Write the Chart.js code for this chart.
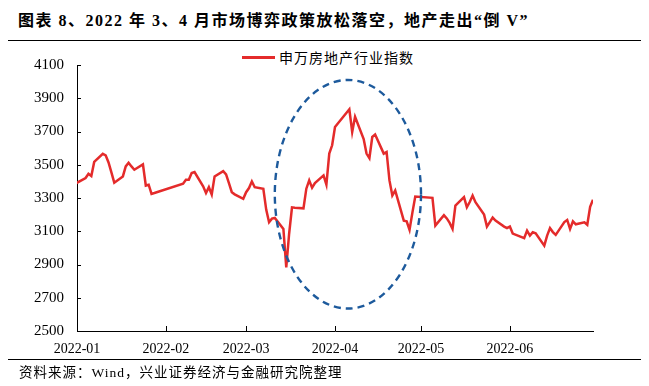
<!DOCTYPE html>
<html lang="zh-CN">
<head>
<meta charset="utf-8">
<script src="https://cdn.jsdelivr.net/npm/chart.js@4.4.1/dist/chart.umd.min.js"></script>
<style>
  html, body { margin: 0; padding: 0; background: #fff; }
  #wrap { position: relative; width: 649px; height: 386px; overflow: hidden; }
  #chart { position: absolute; left: 0; top: 0; }
  .title {
    position: absolute; left: 18px; top: 7px; white-space: pre; letter-spacing: 1.5px;
    font: bold 16px "Liberation Serif", "Noto Sans CJK SC", serif; color: #000;
  }
  .rule { position: absolute; left: 8px; width: 633px; height: 1px; background: #000; }
  .note {
    position: absolute; left: 19px; top: 361px; white-space: nowrap; letter-spacing: 1px;
    font: 13.5px "Liberation Serif", "Noto Sans CJK SC", serif; color: #000;
  }
  .legend { position: absolute; left: 242px; top: 48px; height: 18px; white-space: nowrap; }
  .legend i { position: absolute; left: 0; top: 8px; width: 33px; height: 2.5px; background: #e42b2b; }
  .legend span {
    position: absolute; left: 37px; top: 0; letter-spacing: 1px;
    font: 14px "Noto Sans CJK SC", sans-serif; line-height: 18px; color: #000;
  }
</style>
</head>
<body>
<div id="wrap">
  <div class="title">图表 8、2022 年 3、4 月市场博弈政策放松落空，地产走出“倒 V”</div>
  <div class="rule" style="top:40px"></div>
  <div class="legend"><i></i><span>申万房地产行业指数</span></div>
  <canvas id="chart" width="649" height="386"></canvas>
  <div class="rule" style="top:359px"></div>
  <div class="note">资料来源：Wind，兴业证券经济与金融研究院整理</div>
</div>
<script>
// 交易日
const dates = [
  '2021-12-31',
  '2022-01-04','2022-01-05','2022-01-06','2022-01-07','2022-01-10','2022-01-11','2022-01-12','2022-01-13','2022-01-14',
  '2022-01-17','2022-01-18','2022-01-19','2022-01-20','2022-01-21','2022-01-24','2022-01-25','2022-01-26','2022-01-27','2022-01-28',
  '2022-02-07','2022-02-08','2022-02-09','2022-02-10','2022-02-11','2022-02-14','2022-02-15','2022-02-16','2022-02-17','2022-02-18',
  '2022-02-21','2022-02-22','2022-02-23','2022-02-24','2022-02-25','2022-02-28',
  '2022-03-01','2022-03-02','2022-03-03','2022-03-04','2022-03-07','2022-03-08','2022-03-09','2022-03-10','2022-03-11',
  '2022-03-14','2022-03-15','2022-03-16','2022-03-17','2022-03-18','2022-03-21','2022-03-22','2022-03-23','2022-03-24','2022-03-25',
  '2022-03-28','2022-03-29','2022-03-30','2022-03-31','2022-04-01',
  '2022-04-06','2022-04-07','2022-04-08','2022-04-11','2022-04-12','2022-04-13','2022-04-14','2022-04-15',
  '2022-04-18','2022-04-19','2022-04-20','2022-04-21','2022-04-22','2022-04-25','2022-04-26','2022-04-27','2022-04-28','2022-04-29',
  '2022-05-05','2022-05-06','2022-05-09','2022-05-10','2022-05-11','2022-05-12','2022-05-13',
  '2022-05-16','2022-05-17','2022-05-18','2022-05-19','2022-05-20','2022-05-23','2022-05-24','2022-05-25','2022-05-26','2022-05-27',
  '2022-05-30','2022-05-31','2022-06-01','2022-06-02',
  '2022-06-06','2022-06-07','2022-06-08','2022-06-09','2022-06-10','2022-06-13','2022-06-14','2022-06-15','2022-06-16','2022-06-17',
  '2022-06-20','2022-06-21','2022-06-22','2022-06-23','2022-06-24','2022-06-27','2022-06-28','2022-06-29','2022-06-30'
];

// 申万房地产行业指数
const swRealEstate = [
  3382,
  3420, 3446, 3432, 3517, 3566, 3557, 3514, 3454, 3392,
  3430, 3490, 3512, 3490, 3470, 3502, 3375, 3380, 3325, 3330,
  3386, 3410, 3410, 3450, 3456, 3370, 3330, 3365, 3321, 3430,
  3462, 3442, 3390, 3335, 3322, 3295,
  3335, 3360, 3400, 3365, 3355, 3230, 3154, 3176, 3180,
  3114, 2882, 3085, 3244, 3242, 3238, 3356, 3406, 3362, 3390,
  3436, 3380, 3567, 3617, 3727,
  3834, 3697, 3788, 3655, 3567, 3540, 3667, 3682,
  3567, 3577, 3406, 3315, 3345, 3164, 3160, 3108, 3212, 3309,
  3301, 3134, 3197, 3177, 3150, 3114, 3255,
  3305, 3245, 3276, 3315, 3275, 3200, 3128, 3155, 3182, 3164,
  3128, 3119, 3128, 3086,
  3058, 3104, 3074, 3094, 3088, 3013, 3074, 3119, 3095, 3078,
  3155, 3168, 3114, 3160, 3142, 3154, 3139, 3247, 3290
];

// 坐标轴
const monthLabels = ['2022-01', '2022-02', '2022-03', '2022-04', '2022-05', '2022-06'];
const xRange = ['2022-01-01', '2022-06-30'];
const yMin = 2500, yMax = 4100, yStep = 200;

// 虚线椭圆（标注区间）
const circleDates = ['2022-03-11', '2022-05-01'];
const circleValues = [2635, 4010];

const dayOf = s => {
  const [yy, mm, dd] = s.split('-').map(Number);
  return (Date.UTC(yy, mm - 1, dd || 1) - Date.UTC(2022, 0, 1)) / 86400000;
};
const monthTicks = monthLabels.map(dayOf);
const points = dates.map((d, i) => ({ x: dayOf(d), y: swRealEstate[i] }));

const extras = {
  id: 'extras',
  afterDatasetsDraw(chart) {
    const { ctx, scales: { x, y } } = chart;
    const x0 = x.getPixelForValue(dayOf(circleDates[0]));
    const x1 = x.getPixelForValue(dayOf(circleDates[1]));
    const y0 = y.getPixelForValue(circleValues[0]);
    const y1 = y.getPixelForValue(circleValues[1]);
    ctx.save();
    ctx.strokeStyle = '#1d5a9c';
    ctx.lineWidth = 2.4;
    ctx.setLineDash([7, 5]);
    ctx.beginPath();
    ctx.ellipse((x0 + x1) / 2, (y0 + y1) / 2, Math.abs(x1 - x0) / 2, Math.abs(y1 - y0) / 2, 0, 0, Math.PI * 2);
    ctx.stroke();
    ctx.restore();
  },
  afterDraw(chart) {
    // 刻度线朝内
    const { ctx, chartArea, scales: { x, y } } = chart;
    ctx.save();
    ctx.strokeStyle = '#000';
    ctx.lineWidth = 1;
    ctx.beginPath();
    y.ticks.forEach(t => {
      const py = Math.round(y.getPixelForValue(t.value)) + 0.5;
      ctx.moveTo(chartArea.left, py);
      ctx.lineTo(chartArea.left + 4, py);
    });
    x.ticks.forEach(t => {
      const px = Math.round(x.getPixelForValue(t.value)) + 0.5;
      ctx.moveTo(px, chartArea.bottom);
      ctx.lineTo(px, chartArea.bottom - 5);
    });
    ctx.stroke();
    ctx.restore();
  }
};

new Chart(document.getElementById('chart'), {
  type: 'line',
  data: {
    datasets: [{
      label: '申万房地产行业指数',
      data: points,
      borderColor: '#e42b2b',
      borderWidth: 2.5,
      pointRadius: 0,
      tension: 0,
      fill: false
    }]
  },
  options: {
    responsive: false,
    animation: false,
    devicePixelRatio: 1,
    layout: { padding: { top: 65, right: 56, left: 0, bottom: 0 } },
    plugins: { legend: { display: false }, tooltip: { enabled: false } },
    scales: {
      x: {
        type: 'linear',
        min: dayOf(xRange[0]),
        max: dayOf(xRange[1]),
        afterBuildTicks: s => { s.ticks = monthTicks.map(v => ({ value: v })); },
        afterFit: s => { s.height = 55; },
        grid: { display: true, drawOnChartArea: false, drawTicks: false },
        border: { display: true, color: '#000', width: 1 },
        ticks: {
          padding: 10,
          maxRotation: 0,
          autoSkip: false,
          color: '#000',
          font: { family: 'Liberation Serif', size: 14 },
          callback: (v, i) => monthLabels[i]
        }
      },
      y: {
        min: yMin,
        max: yMax,
        afterFit: s => { s.width = 77; },
        grid: { display: true, drawOnChartArea: false, drawTicks: false },
        border: { display: true, color: '#000', width: 1 },
        ticks: {
          stepSize: yStep,
          padding: 13,
          color: '#000',
          font: { family: 'Liberation Serif', size: 15 },
          callback: v => String(v)
        }
      }
    }
  },
  plugins: [extras]
});
</script>
</body>
</html>
